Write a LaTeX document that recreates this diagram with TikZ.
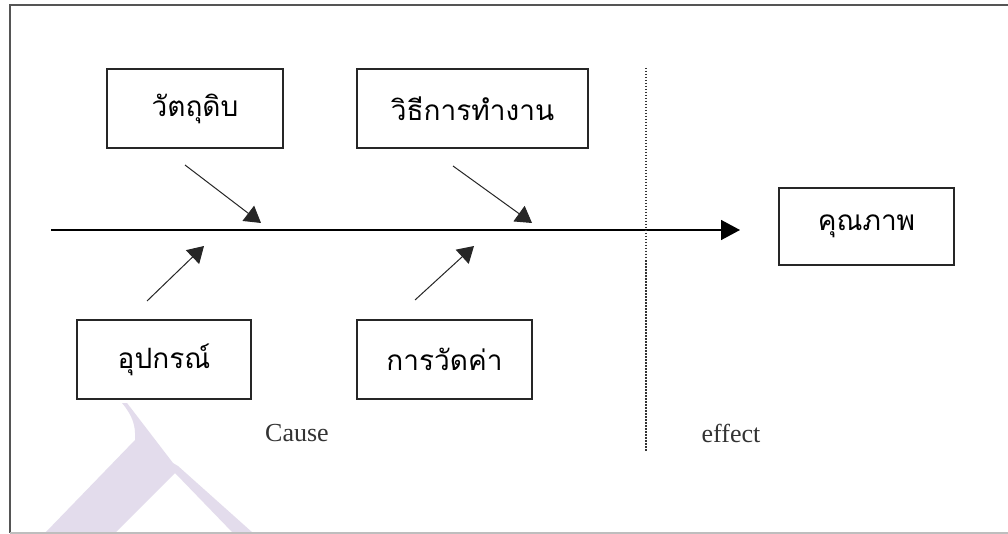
\documentclass[tikz,border=0pt]{standalone}
\usepackage{fontspec}
\setmainfont{Liberation Serif}
\newfontfamily\thaifont[Script=Thai]{Loma}
\usetikzlibrary{arrows.meta}
\definecolor{wmark}{RGB}{227,220,236}
\definecolor{framegray}{RGB}{85,85,85}
\definecolor{bottomgray}{RGB}{190,190,190}
\tikzset{
  causebox/.style={draw=black!85, line width=1.5pt, inner sep=0pt, font=\thaifont\fontsize{28}{32}\selectfont},
  bone/.style={draw=black!85, line width=1pt, -{Triangle[length=16pt,width=19pt]}},
  spine/.style={draw=black, line width=1.5pt, -{Triangle[length=19pt,width=20pt]}},
  lbl/.style={font=\fontsize{26}{30}\selectfont, text=black!80, inner sep=0pt},
}
\begin{document}
\begin{tikzpicture}[x=1pt,y=-1pt]
\useasboundingbox (0,0) rectangle (1008,534);
\fill[white] (0,0) rectangle (1008,534);
% watermark
\fill[wmark] (122,403) -- (127,403) -- (173,463) -- (178,466) -- (253,533) -- (233,533)
  -- (175,473) -- (115,533) -- (45,533) -- (135,440) .. controls (136,425) and (132,415) .. (122,403) -- cycle;
% frame
\draw[framegray, line width=2pt] (1008,5) -- (10,5) -- (10,533);
\draw[bottomgray, line width=1.5pt] (10,533) -- (1008,533);
% boxes
\node[causebox, minimum width=176pt, minimum height=79pt] (raw) at (195,108.5) {วัตถุดิบ};
\node[causebox, minimum width=231pt, minimum height=79pt] (method) at (472.5,108.5) {วิธีการทำงาน};
\node[causebox, minimum width=174pt, minimum height=79pt] (equip) at (164,359.5) {อุปกรณ์};
\node[causebox, minimum width=175pt, minimum height=79pt] (measure) at (444.5,359.5) {การวัดค่า};
\node[causebox, minimum width=175pt, minimum height=77pt] (quality) at (866.5,226.5) {คุณภาพ};
% spine
\coordinate (s0) at (51,230);
\coordinate (s1) at (740,230);
\draw[spine] (s0) -- (s1);
% bones
\coordinate (a0) at (185,165); \coordinate (a1) at (261,223);
\coordinate (b0) at (147,301); \coordinate (b1) at (204,246);
\coordinate (c0) at (453,166); \coordinate (c1) at (532,223);
\coordinate (d0) at (415,300); \coordinate (d1) at (474,246);
\draw[bone] (a0) -- (a1);
\draw[bone] (b0) -- (b1);
\draw[bone] (c0) -- (c1);
\draw[bone] (d0) -- (d1);
% divider
\coordinate (v0) at (646,68);
\coordinate (v1) at (646,452);
\draw[black!80, line width=1.5pt, dash pattern=on 1.5pt off 1.5pt] (v0) -- (v1);
% labels
\node[lbl] (cause) at (297,433) {Cause};
\node[lbl] (effect) at (731,433) {effect};
\end{tikzpicture}
\end{document}
